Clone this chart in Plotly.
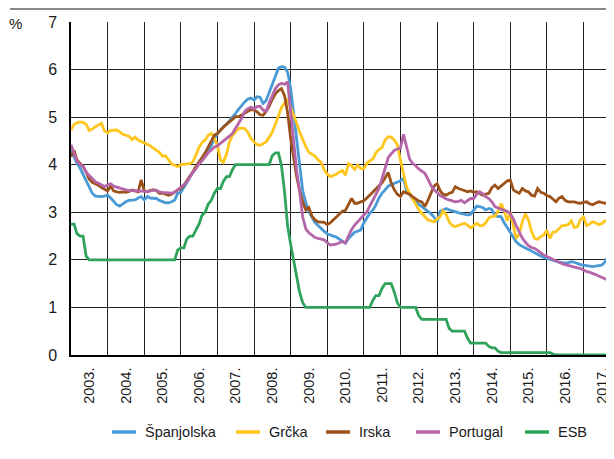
import pandas as pd
import plotly.graph_objects as go

# ---------------- data (monthly, Jan 2003 - Nov 2017) ----------------
spanjolska = [
    4.31, 4.15, 4.03, 3.93, 3.80, 3.70, 3.56, 3.40, 3.34, 3.33, 3.33, 3.34,
    3.36, 3.30, 3.22, 3.16, 3.13, 3.18, 3.22, 3.25, 3.26, 3.26, 3.30, 3.33,
    3.26, 3.33, 3.30, 3.29, 3.29, 3.25, 3.22, 3.20, 3.20, 3.22, 3.26, 3.40,
    3.42, 3.52, 3.62, 3.74, 3.84, 3.94, 4.03, 4.10, 4.22, 4.32, 4.40, 4.55,
    4.65, 4.73, 4.80, 4.85, 4.92, 5.00, 5.08, 5.17, 5.25, 5.32, 5.38, 5.40,
    5.36, 5.43, 5.42, 5.29, 5.35, 5.53, 5.68, 5.88, 6.03, 6.06, 6.05, 5.95,
    5.60, 5.05, 4.50, 3.95, 3.45, 3.20, 3.02, 2.90, 2.78, 2.72, 2.65, 2.60,
    2.55, 2.52, 2.50, 2.48, 2.44, 2.40, 2.35, 2.45, 2.52, 2.58, 2.60, 2.63,
    2.78, 2.88, 2.98, 3.05, 3.15, 3.30, 3.40, 3.47, 3.55, 3.58, 3.61, 3.63,
    3.66, 3.71, 3.47, 3.38, 3.28, 3.22, 3.17, 3.12, 3.07, 3.02, 2.97, 2.90,
    2.80, 3.02, 3.05, 3.08, 3.05, 3.03, 3.00, 2.98, 2.97, 2.96, 2.94, 2.96,
    3.05, 3.13, 3.12, 3.10, 3.05, 3.08, 3.06, 2.93, 2.91, 2.91, 2.78, 2.68,
    2.55, 2.45, 2.38, 2.32, 2.28, 2.25, 2.22, 2.18, 2.15, 2.12, 2.08, 2.05,
    2.03, 2.01, 1.98, 1.96, 1.95, 1.94, 1.93, 1.94, 1.96, 1.95, 1.92, 1.90,
    1.89, 1.88, 1.87, 1.86, 1.87, 1.88, 1.89, 1.95, 2.07, 1.93, 1.95,
]
grcka = [
    4.73, 4.85, 4.88, 4.90, 4.89, 4.85, 4.72, 4.75, 4.80, 4.83, 4.87, 4.71,
    4.67, 4.72, 4.73, 4.73, 4.69, 4.64, 4.62, 4.60, 4.53, 4.58, 4.52, 4.49,
    4.47, 4.44, 4.40, 4.35, 4.30, 4.26, 4.18, 4.19, 4.10, 4.02, 3.99, 3.96,
    4.00, 4.01, 4.01, 4.02, 4.06, 4.22, 4.36, 4.47, 4.52, 4.62, 4.66, 4.56,
    4.40, 4.10, 4.05, 4.22, 4.48, 4.62, 4.70, 4.76, 4.77, 4.76, 4.68, 4.55,
    4.48, 4.42, 4.41, 4.45, 4.48, 4.58, 4.68, 4.85, 5.05, 5.20, 5.30, 5.36,
    5.20, 5.05, 4.88, 4.68, 4.52, 4.38, 4.26, 4.22, 4.18, 4.10, 4.05, 3.90,
    3.80, 3.75, 3.77, 3.80, 3.85, 3.88, 3.78, 4.02, 3.98, 3.90, 3.99, 3.92,
    3.92, 4.03, 4.08, 4.12, 4.25, 4.32, 4.36, 4.52, 4.59, 4.58, 4.52, 4.42,
    4.10, 3.78, 3.54, 3.40, 3.28, 3.17, 3.06, 2.98, 2.90, 2.84, 2.82, 2.80,
    2.86, 2.91, 3.03, 2.95, 2.80, 2.72, 2.70, 2.72, 2.74, 2.77, 2.73, 2.67,
    2.72, 2.77, 2.72, 2.72, 2.78, 2.88, 2.91, 2.92, 3.02, 3.18, 3.05, 2.82,
    3.00, 2.68, 2.45, 2.55, 2.80, 2.97, 2.84, 2.60, 2.45, 2.43, 2.49, 2.52,
    2.62, 2.45, 2.58, 2.59, 2.66, 2.72, 2.72, 2.74, 2.82, 2.68, 2.70, 2.84,
    2.90, 2.72, 2.75, 2.80, 2.78, 2.74, 2.76, 2.82, 2.80, 2.78, 2.63,
]
irska = [
    4.17, 4.30, 4.10, 4.03, 3.96, 3.85, 3.70, 3.63, 3.60, 3.57, 3.52, 3.48,
    3.45, 3.55, 3.45, 3.43, 3.42, 3.43, 3.42, 3.44, 3.47, 3.45, 3.43, 3.68,
    3.45, 3.43, 3.46, 3.47, 3.46, 3.40, 3.40, 3.38, 3.36, 3.38, 3.43, 3.47,
    3.50, 3.57, 3.66, 3.75, 3.85, 3.97, 4.05, 4.15, 4.25, 4.38, 4.50, 4.62,
    4.66, 4.73, 4.77, 4.85, 4.90, 4.96, 5.01, 5.01, 5.05, 5.09, 5.12, 5.16,
    5.15, 5.11, 5.05, 5.04, 5.12, 5.23, 5.37, 5.49, 5.56, 5.60, 5.45, 5.10,
    4.55, 4.10, 3.75, 3.45, 3.22, 3.05, 3.10, 2.92, 2.84, 2.80, 2.80, 2.79,
    2.74, 2.78, 2.84, 2.90, 2.97, 3.02, 3.04, 3.15, 3.29, 3.19, 3.19, 3.22,
    3.24, 3.30, 3.36, 3.42, 3.50, 3.56, 3.62, 3.72, 3.84, 3.62, 3.47, 3.38,
    3.33, 3.43, 3.40, 3.38, 3.33, 3.28, 3.24, 3.22, 3.12, 3.25, 3.40, 3.55,
    3.60, 3.45, 3.38, 3.36, 3.40, 3.42, 3.54, 3.50, 3.48, 3.45, 3.43, 3.45,
    3.42, 3.43, 3.40, 3.36, 3.38, 3.40, 3.52, 3.57, 3.50, 3.55, 3.62, 3.66,
    3.68, 3.47, 3.43, 3.40, 3.50, 3.45, 3.43, 3.36, 3.34, 3.50, 3.42, 3.40,
    3.35, 3.33, 3.28, 3.22, 3.30, 3.33, 3.25, 3.22, 3.22, 3.22, 3.20, 3.19,
    3.21, 3.22, 3.18, 3.16, 3.19, 3.22, 3.21, 3.19, 3.21, 3.20, 3.22,
]
portugal = [
    4.42, 4.25, 4.08, 4.00, 3.97, 3.84, 3.77, 3.70, 3.64, 3.61, 3.57, 3.54,
    3.58, 3.60, 3.55, 3.53, 3.50, 3.48, 3.47, 3.46, 3.45, 3.45, 3.45, 3.45,
    3.44, 3.43, 3.45, 3.47, 3.46, 3.43, 3.42, 3.41, 3.40, 3.40, 3.42, 3.47,
    3.53, 3.58, 3.64, 3.75, 3.84, 3.92, 4.02, 4.08, 4.17, 4.25, 4.31, 4.37,
    4.40, 4.45, 4.50, 4.54, 4.60, 4.66, 4.76, 4.88, 4.98, 5.12, 5.18, 5.21,
    5.17, 5.22, 5.23, 5.15, 5.12, 5.30, 5.45, 5.60, 5.68, 5.71, 5.69, 5.74,
    5.10, 4.45, 3.88, 3.42, 2.90, 2.65, 2.57, 2.52, 2.47, 2.45, 2.43, 2.42,
    2.36, 2.31, 2.32, 2.33, 2.36, 2.38, 2.36, 2.52, 2.64, 2.73, 2.80, 2.86,
    2.93, 3.01, 3.13, 3.25, 3.37, 3.50, 3.70, 3.95, 4.15, 4.23, 4.30, 4.33,
    4.35, 4.64, 4.38, 4.12, 4.03, 3.98, 3.91, 3.87, 3.82, 3.70, 3.56, 3.48,
    3.42, 3.35, 3.32, 3.28, 3.26, 3.24, 3.22, 3.23, 3.25, 3.20, 3.24, 3.29,
    3.29, 3.38, 3.43, 3.39, 3.33, 3.29, 3.22, 3.12, 3.09, 3.07, 3.05, 3.02,
    2.97, 2.86, 2.72, 2.58, 2.46, 2.37, 2.30, 2.26, 2.24, 2.20, 2.15, 2.10,
    2.07, 2.04, 2.00, 1.97, 1.94, 1.92, 1.90, 1.88, 1.87, 1.85, 1.83, 1.82,
    1.78, 1.75, 1.74, 1.72, 1.69, 1.66, 1.63, 1.60, 1.57, 1.55, 1.54,
]
esb = [
    2.75, 2.75, 2.55, 2.50, 2.50, 2.08, 2.00, 2.00, 2.00, 2.00, 2.00, 2.00,
    2.00, 2.00, 2.00, 2.00, 2.00, 2.00, 2.00, 2.00, 2.00, 2.00, 2.00, 2.00,
    2.00, 2.00, 2.00, 2.00, 2.00, 2.00, 2.00, 2.00, 2.00, 2.00, 2.00, 2.21,
    2.25, 2.25, 2.44, 2.50, 2.50, 2.63, 2.75, 2.94, 3.00, 3.17, 3.25, 3.40,
    3.50, 3.50, 3.65, 3.75, 3.75, 3.90, 4.00, 4.00, 4.00, 4.00, 4.00, 4.00,
    4.00, 4.00, 4.00, 4.00, 4.00, 4.00, 4.19, 4.25, 4.25, 3.98, 3.43, 2.72,
    2.32, 2.00, 1.66, 1.31, 1.10, 1.00, 1.00, 1.00, 1.00, 1.00, 1.00, 1.00,
    1.00, 1.00, 1.00, 1.00, 1.00, 1.00, 1.00, 1.00, 1.00, 1.00, 1.00, 1.00,
    1.00, 1.00, 1.00, 1.15, 1.25, 1.25, 1.40, 1.50, 1.50, 1.50, 1.32, 1.10,
    1.00, 1.00, 1.00, 1.00, 1.00, 1.00, 0.83, 0.75, 0.75, 0.75, 0.75, 0.75,
    0.75, 0.75, 0.75, 0.75, 0.56, 0.50, 0.50, 0.50, 0.50, 0.50, 0.35, 0.25,
    0.25, 0.25, 0.25, 0.25, 0.25, 0.18, 0.15, 0.15, 0.08, 0.05, 0.05, 0.05,
    0.05, 0.05, 0.05, 0.05, 0.05, 0.05, 0.05, 0.05, 0.05, 0.05, 0.05, 0.05,
    0.05, 0.05, 0.02, 0.00, 0.00, 0.00, 0.00, 0.00, 0.00, 0.00, 0.00, 0.00,
    0.00, 0.00, 0.00, 0.00, 0.00, 0.00, 0.00, 0.00, 0.00, 0.00, 0.00,
]
series_names = ["Španjolska", "Grčka", "Irska", "Portugal", "ESB"]
series_values = [spanjolska, grcka, irska, portugal, esb]
series_colors = ["#4a9ad6", "#ffc61e", "#9c5219", "#b565a8", "#2fa35c"]

months = pd.date_range("2003-01-01", periods=len(spanjolska), freq="MS")

# ---------------- figure ----------------
OFF = 8                      # page body margin of the html page
W, H = 614 - OFF, 459 - OFF  # figure fits exactly in the window
PL, PR, PT, PB = 71, 614, 22, 355   # plot area in window pixels
ML, MR, MT = PL - OFF, W - (PR - OFF), PT - OFF
MB = H - (PB - OFF)
PW, PH = W - ML - MR, H - MT - MB
FONT = "Liberation Sans, Arial, sans-serif"
TXT = "#1a1a1a"
FS = 14.5


def px(x):
    return (x - OFF - ML) / PW


def py(y):
    return (H - MB - (y - OFF)) / PH


fig = go.Figure()
for name, vals, col in zip(series_names, series_values, series_colors):
    fig.add_trace(go.Scatter(x=months, y=vals, name=name, mode="lines",
                             line=dict(color=col, width=2.8), showlegend=False))

fig.update_layout(
    width=W, height=H,
    margin=dict(l=ML, r=MR, t=MT, b=MB, pad=0),
    paper_bgcolor="white", plot_bgcolor="white",
    font=dict(family=FONT, size=FS, color=TXT),
    showlegend=False,
)
fig.update_xaxes(
    type="date", range=["2003-01-01", "2017-11-01"],
    tick0="2003-01-01", dtick="M12", tickformat="%Y.",
    ticklabelmode="period", tickangle=-90, ticks="",
    ticklabelstandoff=5,
    showgrid=True, gridcolor="#222222", gridwidth=1.2,
    showline=True, linecolor="#000000", linewidth=1.5,
    zeroline=False, tickfont=dict(size=FS, color=TXT),
)
fig.update_yaxes(
    range=[0, 7], dtick=1, ticks="", ticklabelstandoff=9,
    showgrid=True, gridcolor="#222222", gridwidth=1.2,
    showline=True, linecolor="#000000", linewidth=1.5,
    zeroline=False, tickfont=dict(size=16, color=TXT),
)

# decorative top rule
fig.add_shape(type="line", xref="paper", yref="paper",
              x0=px(10), x1=px(614), y0=py(9), y1=py(9),
              line=dict(color="#8a8a8a", width=1.8))
# unit label
fig.add_annotation(x=px(15), y=py(23), xref="paper", yref="paper",
                   text="%", showarrow=False, xanchor="center", yanchor="middle",
                   font=dict(size=15, color=TXT))

# legend (manual layout)
leg_line_x = [112, 236, 326, 416, 525]
leg_y = 432
for name, col, lx in zip(series_names, series_colors, leg_line_x):
    fig.add_shape(type="line", xref="paper", yref="paper",
                  x0=px(lx), x1=px(lx + 24), y0=py(leg_y), y1=py(leg_y),
                  line=dict(color=col, width=3.5))
    fig.add_annotation(x=px(lx + 31), y=py(leg_y), xref="paper", yref="paper",
                       text=name, showarrow=False, xanchor="left", yanchor="middle",
                       font=dict(size=FS, color=TXT))

fig.write_html("out.html")
